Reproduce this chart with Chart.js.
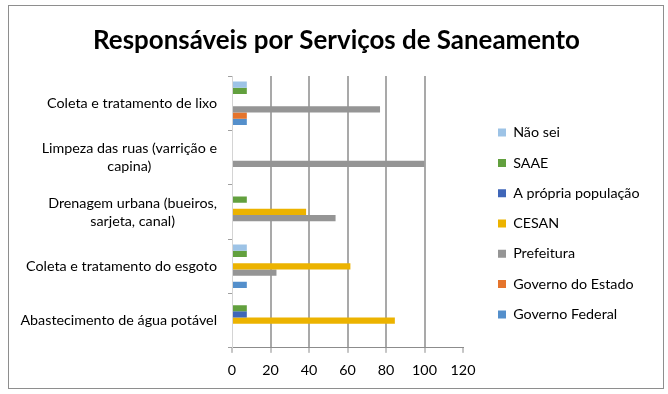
<!DOCTYPE html>
<html lang="pt">
<head>
  <meta charset="UTF-8" />
  <title>Responsáveis por Serviços de Saneamento</title>
  <script src="https://cdn.jsdelivr.net/npm/chart.js"></script>
  <style>
    body { margin: 0; background: #fff; }
    .frame {
      position: absolute; left: 8px; top: 5px;
      width: 654px; height: 382px;
      border: 1px solid #8e8e8e;
    }
    .chart-wrapper { position: absolute; left: 0; top: 0; width: 668px; height: 394px; }
  </style>
</head>
<body>
  <div class="frame"></div>
  <div class="chart-wrapper"><canvas id="chart"></canvas></div>
  <script>
    // categories, top to bottom
    const categories = [
      'Coleta e tratamento de lixo',
      ['Limpeza das ruas (varrição e', 'capina)'],
      ['Drenagem urbana (bueiros,', 'sarjeta, canal)'],
      'Coleta e tratamento do esgoto',
      'Abastecimento de água potável'
    ];

    const naoSei     = [7.7, 0, 0, 7.7, 0];
    const saae       = [7.7, 0, 7.7, 7.7, 7.7];
    const populacao  = [0, 0, 0, 0, 7.7];
    const cesan      = [0, 0, 38.5, 61.5, 84.6];
    const prefeitura = [76.9, 100, 53.8, 23.1, 0];
    const govEstado  = [7.7, 0, 0, 0, 0];
    const govFederal = [7.7, 0, 0, 7.7, 0];

    const xTicks = [0, 20, 40, 60, 80, 100, 120];

    const series = [
      { label: 'Não sei', data: naoSei, color: '#9dc3e6' },
      { label: 'SAAE', data: saae, color: '#62a03e' },
      { label: 'A própria população', data: populacao, color: '#3f66b8' },
      { label: 'CESAN', data: cesan, color: '#ecb300' },
      { label: 'Prefeitura', data: prefeitura, color: '#959595' },
      { label: 'Governo do Estado', data: govEstado, color: '#e5742c' },
      { label: 'Governo Federal', data: govFederal, color: '#548fcb' }
    ];

    const FONT = 'Lato';
    const FS = 14.3;

    // category labels: right aligned block, lines centred on each other
    const yLabels = {
      id: 'yLabels',
      afterDraw(chart) {
        const scale = chart.scales.y;
        const ctx = chart.ctx;
        ctx.save();
        ctx.font = FS + 'px ' + FONT;
        ctx.fillStyle = '#000';
        ctx.textAlign = 'center';
        ctx.textBaseline = 'middle';
        const right = scale.right - 15;
        const lh = 18;
        categories.forEach((lab, i) => {
          const lines = Array.isArray(lab) ? lab : [lab];
          const w = Math.max(...lines.map(l => ctx.measureText(l).width));
          const cx = right - w / 2;
          const cy = scale.getPixelForTick(i);
          lines.forEach((l, j) => {
            ctx.fillText(l, cx, cy + (j - (lines.length - 1) / 2) * lh);
          });
        });
        ctx.restore();
      }
    };

    // place legend and title like the original
    const boxShift = {
      id: 'boxShift',
      afterLayout(chart) {
        const lg = chart.legend;
        lg.left = 482;
        lg.width = 180;
        lg.right = 482 + 180;
        lg.top += 24.5;
        lg.bottom += 24.5;
        const tb = chart.titleBlock;
        tb.left += 24.5;
        tb.right += 24.5;
      }
    };

    new Chart(document.getElementById('chart'), {
      type: 'bar',
      data: {
        labels: categories,
        datasets: series.map(s => ({
          label: s.label,
          data: s.data,
          backgroundColor: s.color,
          borderWidth: 0,
          barPercentage: 1,
          categoryPercentage: 0.8
        }))
      },
      options: {
        indexAxis: 'y',
        responsive: true,
        maintainAspectRatio: false,
        animation: false,
        layout: { padding: { left: 10, right: 54, top: 10, bottom: 6 } },
        plugins: {
          title: {
            display: true,
            text: 'Responsáveis por Serviços de Saneamento',
            color: '#000',
            font: { family: FONT, size: 25.9, weight: 'bold' },
            padding: { top: 15, bottom: 20 }
          },
          legend: {
            position: 'right',
            labels: {
              boxWidth: 8,
              boxHeight: 8,
              padding: 16,
              color: '#000',
              font: { family: FONT, size: FS }
            }
          },
          tooltip: { enabled: false }
        },
        scales: {
          x: {
            min: 0,
            max: 120,
            afterBuildTicks: s => { s.ticks = xTicks.map(v => ({ value: v })); },
            ticks: { color: '#000', font: { family: FONT, size: FS }, padding: 9 },
            grid: {
              color: c => (c.tick && (c.tick.value === 0 || c.tick.value === 120)) ? 'rgba(0,0,0,0)' : '#a9a9a9',
              lineWidth: 2,
              tickLength: 5,
              tickColor: '#8c8c8c',
              tickWidth: 1
            },
            border: { color: '#8c8c8c', width: 1 }
          },
          y: {
            afterFit: s => { s.width = 222; },
            ticks: { display: false },
            grid: {
              drawOnChartArea: false,
              drawTicks: true,
              tickLength: 4,
              tickColor: '#a0a0a0',
              offset: true
            },
            border: { color: '#d4d4d4', width: 1 }
          }
        }
      },
      plugins: [yLabels, boxShift]
    });
  </script>
</body>
</html>
